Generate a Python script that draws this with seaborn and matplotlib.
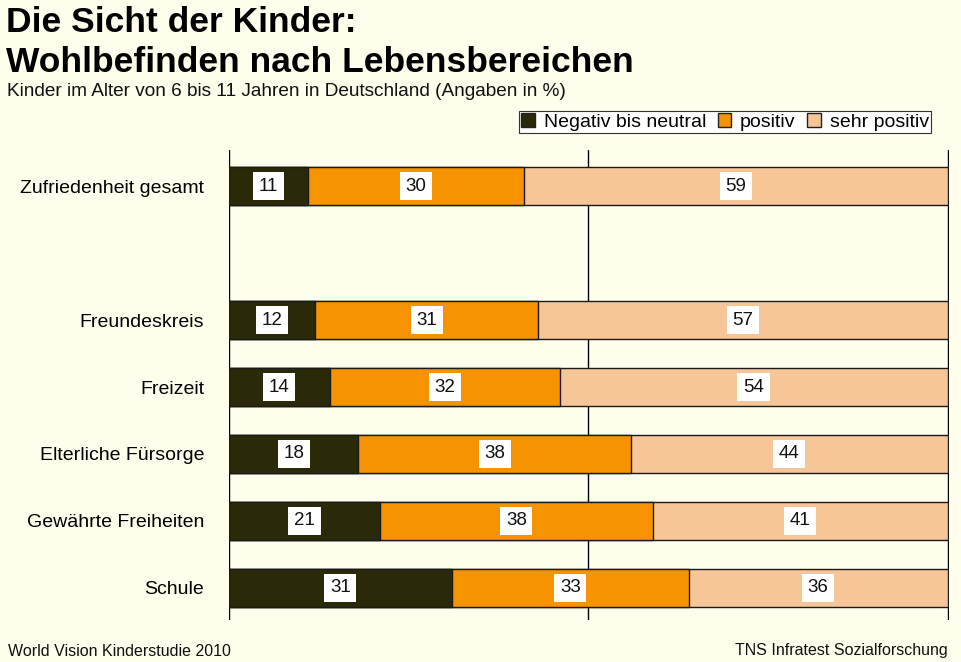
import matplotlib
matplotlib.use("Agg")
import matplotlib.pyplot as plt
from matplotlib import font_manager
import seaborn as sns
import pandas as pd
from matplotlib.patches import Patch

categories = ["Zufriedenheit gesamt", "Freundeskreis", "Freizeit",
              "Elterliche Fürsorge", "Gewährte Freiheiten", "Schule"]
positions = [0, 2, 3, 4, 5, 6]
negativ = [11, 12, 14, 18, 21, 31]
positiv = [30, 31, 32, 38, 38, 33]
sehr_positiv = [59, 57, 54, 44, 41, 36]
series_names = ["Negativ bis neutral", "positiv", "sehr positiv"]
colors = ["#2a2a08", "#f59300", "#f6c698"]

bg = "#fffdec"
sns.set_style("white")
plt.rcParams["font.family"] = ["Liberation Sans", "DejaVu Sans"]
plt.rcParams["text.color"] = "black"
plt.rcParams["ytick.color"] = "black"

names = {f.name for f in font_manager.fontManager.ttflist}
if "Liberation Sans Narrow" in names:
    foot_family, foot_size = ["Liberation Sans Narrow", "Liberation Sans"], 13.5
else:
    foot_family, foot_size = ["Liberation Sans", "DejaVu Sans"], 11.5

fig = plt.figure(figsize=(9.61, 6.62), dpi=100, facecolor=bg)
ax = fig.add_axes([229 / 961, 1 - 620 / 662, 720 / 961, 470 / 662])
ax.set_facecolor(bg)

df = pd.DataFrame({"pos": positions, "cat": categories,
                   "neg": negativ, "pos_v": positiv, "sehr": sehr_positiv})
df["c1"] = df["neg"]
df["c2"] = df["neg"] + df["pos_v"]
df["c3"] = df["c2"] + df["sehr"]

for col, color in zip(["c3", "c2", "c1"], colors[::-1]):
    sns.barplot(data=df, x=col, y="pos", orient="h", native_scale=True,
                color=color, saturation=1, width=0.57, edgecolor="#1a1a1a",
                linewidth=1.0, ax=ax, zorder=3)

for xv in [0, 50, 100]:
    ax.axvline(xv, color="black", lw=1.0, zorder=1)

ax.set_xlim(0, 100.2)
ax.set_ylim(6.48, -0.54)
ax.set_xticks([])
ax.set_yticks(positions)
ax.set_yticklabels(categories, fontsize=14)
ax.tick_params(axis="y", length=0, pad=18)
ax.set_xlabel("")
ax.set_ylabel("")
for s in ax.spines.values():
    s.set_visible(False)

for i, p in enumerate(positions):
    starts = [0, negativ[i], negativ[i] + positiv[i]]
    vals = [negativ[i], positiv[i], sehr_positiv[i]]
    for st, v in zip(starts, vals):
        ax.text(st + v / 2, p, f"{v}", ha="center", va="center", fontsize=13.5,
                color="#111111", zorder=5,
                bbox=dict(boxstyle="square,pad=0.3", fc="white", ec="none"))

handles = [Patch(facecolor=c, edgecolor="#222222", label=n)
           for c, n in zip(colors, series_names)]
leg = fig.legend(handles=handles, loc="upper right", ncol=3,
                 bbox_to_anchor=(931 / 961, 1 - 111 / 662), fontsize=14,
                 frameon=True, fancybox=False, edgecolor="#333333",
                 facecolor="white", framealpha=1, handlelength=0.7,
                 handleheight=0.7, handletextpad=0.45, columnspacing=0.6,
                 borderpad=0.12, borderaxespad=0)
leg.get_frame().set_linewidth(0.8)

fig.text(6 / 961, 1 - 22 / 662, "Die Sicht der Kinder:", fontsize=25.5,
         fontweight="bold", va="center", ha="left")
fig.text(6 / 961, 1 - 62 / 662, "Wohlbefinden nach Lebensbereichen", fontsize=25.5,
         fontweight="bold", va="center", ha="left")
fig.text(7 / 961, 1 - 91 / 662,
         "Kinder im Alter von 6 bis 11 Jahren in Deutschland (Angaben in %)",
         fontsize=13.7, va="center", ha="left", color="#111111")
fig.text(8 / 961, 1 - 651 / 662, "World Vision Kinderstudie 2010",
         fontsize=foot_size, family=foot_family, va="center", ha="left",
         color="#111111")
fig.text(948 / 961, 1 - 651 / 662, "TNS Infratest Sozialforschung",
         fontsize=foot_size, family=foot_family, va="center", ha="right",
         color="#111111")

fig.savefig("out.png", dpi=100, facecolor=bg)
